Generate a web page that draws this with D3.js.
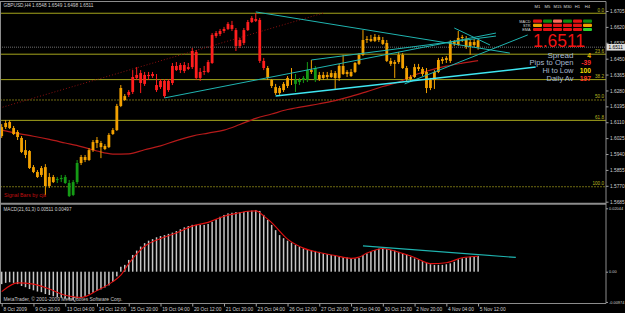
<!DOCTYPE html>
<html>
<head>
<meta charset="utf-8" />
<title>GBPUSD,H4</title>
<script src="https://cdn.jsdelivr.net/npm/d3@7"></script>
<style>
  body { margin: 0; background: #000; }
  svg { display: block; }
  text { font-family: "Liberation Sans", Arial, sans-serif; }
</style>
</head>
<body>
<svg id="chart" width="625" height="313"></svg>
<script>
// ---- price bars (H4, 8 Oct 2009 -> 5 Nov 2009 12:00) ----
const opens = [
  1.6036,1.6084,1.6111,1.6079,1.6058,1.6026,1.5961,1.5956,1.5870,1.5844,
  1.5828,1.5870,1.5769,1.5817,1.5801,1.5806,1.5817,1.5785,1.5721,1.5790,
  1.5892,1.5908,1.5908,1.5961,1.5999,1.5999,1.5983,1.5977,1.6047,1.6068,
  1.6197,1.6250,1.6256,1.6272,1.6347,1.6373,1.6315,1.6357,1.6357,1.6309,
  1.6298,1.6331,1.6282,1.6320,1.6411,1.6389,1.6416,1.6395,1.6405,1.6486,
  1.6347,1.6379,1.6379,1.6427,1.6571,1.6582,1.6598,1.6609,1.6630,1.6603,
  1.6518,1.6534,1.6603,1.6646,1.6662,1.6657,1.6438,1.6400,1.6336,1.6298,
  1.6266,1.6282,1.6304,1.6341,1.6336,1.6325,1.6336,1.6336,1.6379,1.6336,
  1.6363,1.6347,1.6363,1.6352,1.6373,1.6347,1.6411,1.6368,1.6379,1.6379,
  1.6422,1.6470,1.6550,1.6555,1.6545,1.6566,1.6550,1.6534,1.6438,1.6422,
  1.6432,1.6470,1.6400,1.6341,1.6352,1.6405,1.6395,1.6379,1.6293,1.6336,
  1.6379,1.6438,1.6443,1.6438,1.6529,1.6523,1.6561,1.6555,1.6518,1.6539,
  1.6548
];
const highs = [
  1.6100,1.6122,1.6122,1.6090,1.6068,1.6036,1.6015,1.5961,1.5881,1.5854,
  1.5876,1.5886,1.5838,1.5828,1.5817,1.5828,1.5828,1.5801,1.5801,1.5908,
  1.5935,1.5935,1.5972,1.6015,1.6031,1.6010,1.5993,1.6052,1.6079,1.6208,
  1.6309,1.6261,1.6282,1.6389,1.6405,1.6389,1.6379,1.6379,1.6379,1.6368,
  1.6341,1.6341,1.6341,1.6427,1.6432,1.6427,1.6432,1.6427,1.6507,1.6496,
  1.6400,1.6411,1.6443,1.6587,1.6598,1.6609,1.6620,1.6646,1.6652,1.6614,
  1.6561,1.6614,1.6657,1.6678,1.6694,1.6668,1.6454,1.6411,1.6341,1.6315,
  1.6304,1.6325,1.6357,1.6400,1.6368,1.6347,1.6357,1.6432,1.6443,1.6411,
  1.6379,1.6379,1.6379,1.6389,1.6384,1.6422,1.6470,1.6389,1.6395,1.6432,
  1.6480,1.6603,1.6571,1.6577,1.6582,1.6577,1.6566,1.6550,1.6454,1.6443,
  1.6486,1.6480,1.6411,1.6363,1.6422,1.6422,1.6405,1.6400,1.6347,1.6389,
  1.6454,1.6459,1.6464,1.6550,1.6550,1.6598,1.6577,1.6571,1.6550,1.6555,
  1.6549
];
const lows = [
  1.6026,1.6074,1.6074,1.6042,1.6015,1.5945,1.5918,1.5860,1.5838,1.5812,
  1.5817,1.5721,1.5758,1.5785,1.5785,1.5790,1.5780,1.5710,1.5715,1.5780,
  1.5881,1.5897,1.5903,1.5951,1.5972,1.5918,1.5961,1.5972,1.6042,1.6063,
  1.6191,1.6224,1.6245,1.6261,1.6336,1.6266,1.6304,1.6336,1.6347,1.6272,
  1.6288,1.6240,1.6272,1.6309,1.6384,1.6373,1.6373,1.6389,1.6395,1.6336,
  1.6331,1.6363,1.6373,1.6422,1.6561,1.6571,1.6587,1.6603,1.6598,1.6491,
  1.6507,1.6523,1.6598,1.6641,1.6646,1.6427,1.6389,1.6336,1.6293,1.6256,
  1.6256,1.6272,1.6293,1.6309,1.6272,1.6309,1.6320,1.6325,1.6368,1.6325,
  1.6331,1.6336,1.6341,1.6347,1.6288,1.6331,1.6363,1.6352,1.6352,1.6373,
  1.6416,1.6464,1.6534,1.6539,1.6539,1.6539,1.6523,1.6432,1.6411,1.6347,
  1.6422,1.6395,1.6331,1.6325,1.6347,1.6384,1.6357,1.6266,1.6282,1.6288,
  1.6373,1.6422,1.6427,1.6427,1.6518,1.6518,1.6539,1.6502,1.6470,1.6512,
  1.6498
];
const closes = [
  1.6084,1.6106,1.6079,1.6047,1.6031,1.5951,1.5935,1.5865,1.5844,1.5817,
  1.5865,1.5769,1.5817,1.5790,1.5806,1.5812,1.5785,1.5715,1.5790,1.5892,
  1.5924,1.5924,1.5961,1.6004,1.6015,1.5977,1.5967,1.6042,1.6068,1.6197,
  1.6293,1.6229,1.6272,1.6352,1.6363,1.6320,1.6363,1.6363,1.6368,1.6282,
  1.6331,1.6250,1.6331,1.6411,1.6389,1.6416,1.6384,1.6405,1.6491,1.6347,
  1.6379,1.6384,1.6432,1.6577,1.6587,1.6598,1.6609,1.6636,1.6609,1.6518,
  1.6550,1.6603,1.6646,1.6668,1.6652,1.6438,1.6400,1.6347,1.6304,1.6266,
  1.6293,1.6315,1.6347,1.6336,1.6315,1.6336,1.6347,1.6389,1.6389,1.6400,
  1.6341,1.6363,1.6352,1.6373,1.6347,1.6411,1.6368,1.6379,1.6357,1.6427,
  1.6470,1.6550,1.6555,1.6545,1.6566,1.6550,1.6529,1.6438,1.6422,1.6432,
  1.6470,1.6400,1.6341,1.6352,1.6405,1.6395,1.6368,1.6293,1.6336,1.6379,
  1.6443,1.6448,1.6454,1.6539,1.6539,1.6561,1.6566,1.6512,1.6539,1.6523,
  1.6511
];
// Signal Bars state per bar, as runs (o = neutral, r = up trend, g = down trend)
const stateRuns = [["o",14],["g",6],["o",12],["r",35],["o",7],["g",4],["o",1],["g",1],["o",41]];

// moving average (red line) read every 4 bars
const maBars = [0,4,8,12,16,20,24,28,32,36,40,44,48,52,56,60,64,68,72,76,80,84,88,92,96,100,104,108,112,116,120];
const maVals = [1.6068,1.6050,1.6035,1.6018,1.5999,1.5980,1.5956,1.5940,1.5941,1.5963,1.5984,1.6012,1.6036,1.6052,1.6068,1.6098,
  1.6131,1.6154,1.6178,1.6194,1.6209,1.6226,1.6248,1.6274,1.6301,1.6325,1.6363,1.6389,1.6410,1.6426,1.6440];

// fibonacci retracement
const fibLevels = ["0.0","23.6","38.2","50.0","61.8","100.0"];
const fibPrices = [1.6693,1.6474,1.6338,1.6229,1.6120,1.5765];

// trend lines [bar1, price1, bar2, price2]
const cyanLines = [
  [64, 1.6700, 128, 1.6480],
  [78, 1.6443, 124.5, 1.6571],
  [41, 1.6240, 124.5, 1.6587],
  [114, 1.6614, 123, 1.6523],
  [101.5, 1.6315, 132.5, 1.6577]
];
const supportLine = [69, 1.6250, 134.5, 1.6405];
const dottedLine = [-0.5, 1.6186, 81, 1.6694];

// MACD(21,61,3)
const macdVals = [
  -0.0040,-0.0036,-0.0034,-0.0036,-0.0040,-0.0046,-0.0050,-0.0056,-0.0060,-0.0064,
  -0.0066,-0.0072,-0.0075,-0.0079,-0.0082,-0.0084,-0.0087,-0.0090,-0.0091,-0.0087,
  -0.0082,-0.0078,-0.0073,-0.0068,-0.0062,-0.0057,-0.0051,-0.0044,-0.0033,-0.0015,
  0.0016,0.0022,0.0038,0.0054,0.0068,0.0081,0.0092,0.0100,0.0105,0.0111,
  0.0115,0.0118,0.0122,0.0126,0.0131,0.0137,0.0143,0.0147,0.0151,0.0151,
  0.0151,0.0151,0.0154,0.0161,0.0169,0.0177,0.0183,0.0188,0.0190,0.0192,
  0.0192,0.0193,0.0195,0.0197,0.0199,0.0196,0.0183,0.0167,0.0151,0.0134,
  0.0118,0.0108,0.0100,0.0094,0.0086,0.0081,0.0075,0.0072,0.0070,0.0067,
  0.0064,0.0059,0.0057,0.0054,0.0052,0.0048,0.0047,0.0046,0.0044,0.0043,
  0.0044,0.0054,0.0059,0.0064,0.0070,0.0074,0.0075,0.0073,0.0070,0.0068,
  0.0064,0.0060,0.0055,0.0048,0.0043,0.0040,0.0034,0.0029,0.0024,0.0022,
  0.0022,0.0022,0.0024,0.0027,0.0032,0.0040,0.0043,0.0046,0.0048,0.0050,
  0.0051
];
const signalBars = [0,4,8,12,16,20,24,28,30,32,36,40,44,48,52,56,60,62,64,66,68,72,76,80,84,88,90,92,96,100,104,108,112,116,120];
const signalVals = [-0.0064,-0.0036,-0.0040,-0.0056,-0.0076,-0.0083,-0.0061,-0.0032,-0.0011,0.0026,0.0082,0.0107,0.0125,0.0147,0.0159,0.0179,0.0190,
  0.0195,0.0196,0.0180,0.0158,0.0105,0.0076,0.0062,0.0052,0.0043,0.0047,0.0060,0.0075,0.0063,0.0046,0.0026,0.0029,0.0045,0.0050];
const macdLine = [91, 0.0083, 129.5, 0.0046];

// axes
const priceTicks = [1.6705,1.6620,1.6535,1.6450,1.6365,1.6280,1.6195,1.6110,1.6025,1.5940,1.5855,1.5770,1.5685];
const macdTicks = [0.02044, 0, -0.00974];
const macdTickLabels = ["0.02044","0.00","-0.00974"];
const timeTickBars = [0,8,16,24,32,40,48,56,64,72,80,88,96,104,112,120];
const timeTickLabels = ["8 Oct 2009","9 Oct 20:00","13 Oct 04:00","14 Oct 12:00","15 Oct 20:00","19 Oct 04:00","20 Oct 12:00",
  "21 Oct 20:00","23 Oct 04:00","26 Oct 12:00","27 Oct 20:00","29 Oct 04:00","30 Oct 12:00","2 Nov 20:00","4 Nov 04:00","5 Nov 12:00"];

// info panel
const lastPrice = "1.6511";
const headerText = "GBPUSD,H4  1.6548 1.6549 1.6498 1.6511";
const macdHeader = "MACD(21,61,3) 0.00511 0.00497";
const timeframes = ["M1","M5","M15","M30","H1","H4"];
const panelRows = ["MACD","STR","EMA"];
const panelStates = [["r","g","l","g","r","g"],["o","r","r","r","r","o"],["r","r","r","r","r","G"]];
const infoLabels = ["Spread","Pips to Open","Hi to Low","Daily Av"];
const infoValues = ["4","-39","100","197"];

// ---------------------------------------------------------------
const states = stateRuns.flatMap(([s, n]) => Array(n).fill(s));
const candleColor = { o: "#f2a100", r: "#ff1e1e", g: "#159a15" };
const cellColor = { r: "#e31212", l: "#ff6a5a", g: "#0e8a0e", G: "#2ed12e", o: "#eea000" };
const infoColors = ["#e8b400", "#ff2a2a", "#f4dc00", "#ff3a1e"];
const infoLabelWidths = [26, 44, 31, 27];

const svg = d3.select("#chart");
svg.append("rect").attr("width", 625).attr("height", 313).attr("fill", "#000");

const x = d3.scaleLinear().domain([0, 120]).range([1.7, 478.1]);
const yP = d3.scaleLinear().domain([1.5685, 1.6705]).range([201.7, 11]);
const yM = d3.scaleLinear().domain([0, 0.02044]).range([271.7, 208.3]);

const defs = svg.append("defs");
defs.append("clipPath").attr("id", "clipMain")
  .append("rect").attr("x", 1).attr("y", 2).attr("width", 605).attr("height", 201);
defs.append("clipPath").attr("id", "clipMacd")
  .append("rect").attr("x", 1).attr("y", 205).attr("width", 605).attr("height", 98);

const main = svg.append("g").attr("clip-path", "url(#clipMain)");

// fib lines
fibLevels.forEach((lv, k) => {
  const dim = lv === "50.0" || lv === "100.0";
  main.append("line")
    .attr("x1", 0).attr("x2", 606)
    .attr("y1", yP(fibPrices[k])).attr("y2", yP(fibPrices[k]))
    .attr("stroke", dim ? "#6f6a12" : "#a4a41c")
    .attr("stroke-width", 1)
    .attr("stroke-dasharray", dim ? "2,1" : null);
  main.append("text")
    .attr("x", 604).attr("y", yP(fibPrices[k]) - 1.6)
    .attr("text-anchor", "end").attr("font-size", 4.6)
    .attr("fill", "#b8b820").text(lv);
});

// current price line
main.append("line")
  .attr("x1", 0).attr("x2", 606)
  .attr("y1", yP(closes[closes.length - 1])).attr("y2", yP(closes[closes.length - 1]))
  .attr("stroke", "#4a4a4a").attr("stroke-width", 1.3).attr("stroke-dasharray", "1,1");

// moving average
const maLine = d3.line().x(d => x(d[0])).y(d => yP(d[1])).curve(d3.curveMonotoneX);
main.append("path")
  .attr("d", maLine(maBars.map((b, k) => [b, maVals[k]])))
  .attr("fill", "none").attr("stroke", "#b51a1a").attr("stroke-width", 1.2);

// dotted trend line
main.append("line")
  .attr("x1", x(dottedLine[0])).attr("y1", yP(dottedLine[1]))
  .attr("x2", x(dottedLine[2])).attr("y2", yP(dottedLine[3]))
  .attr("stroke", "#8c1010").attr("stroke-width", 1).attr("stroke-dasharray", "1,2");

// candles
const bars = opens.map((o, i) => ({ i, o, h: highs[i], l: lows[i], c: closes[i], s: states[i] }));
main.selectAll("line.wick").data(bars).join("line").attr("class", "wick")
  .attr("x1", d => x(d.i)).attr("x2", d => x(d.i))
  .attr("y1", d => yP(d.h)).attr("y2", d => yP(d.l))
  .attr("stroke", d => candleColor[d.s]).attr("stroke-width", 1);
main.selectAll("rect.body").data(bars).join("rect").attr("class", "body")
  .attr("x", d => x(d.i) - 1.4).attr("width", 2.8)
  .attr("y", d => yP(Math.max(d.o, d.c)))
  .attr("height", d => Math.max(1, Math.abs(yP(d.o) - yP(d.c))))
  .attr("fill", d => candleColor[d.s]);

// cyan trend lines
main.selectAll("line.trend").data(cyanLines).join("line").attr("class", "trend")
  .attr("x1", d => x(d[0])).attr("y1", d => yP(d[1]))
  .attr("x2", d => x(d[2])).attr("y2", d => yP(d[3]))
  .attr("stroke", "#1fb4b0").attr("stroke-width", 1);
main.append("line")
  .attr("x1", x(supportLine[0])).attr("y1", yP(supportLine[1]))
  .attr("x2", x(supportLine[2])).attr("y2", yP(supportLine[3]))
  .attr("stroke", "#3fe6f2").attr("stroke-width", 1.5);

// signal panel
const panel = svg.append("g");
timeframes.forEach((tf, c) => {
  panel.append("text").attr("x", 537.5 + c * 10).attr("y", 8.3)
    .attr("text-anchor", "middle").attr("font-size", 4.2).attr("fill", "#d8d8d8").text(tf);
});
panelRows.forEach((row, r) => {
  panel.append("text").attr("x", 530.5).attr("y", 22.6 + r * 4.2)
    .attr("text-anchor", "end").attr("font-size", 3.8).attr("fill", "#d8d8d8").text(row);
  panelStates[r].forEach((st, c) => {
    panel.append("rect")
      .attr("x", 533 + c * 10).attr("y", 19.5 + r * 4.2)
      .attr("width", 9).attr("height", 3.2).attr("rx", 1)
      .attr("fill", cellColor[st]);
  });
});
panel.append("text").attr("x", 585).attr("y", 47)
  .attr("text-anchor", "end").attr("font-size", 18).attr("fill", "#f01414")
  .attr("textLength", 52).attr("lengthAdjust", "spacingAndGlyphs").text(lastPrice);
infoLabels.forEach((lb, k) => {
  const by = 57.6 + k * 7.7;
  panel.append("text").attr("x", 573.5).attr("y", by)
    .attr("text-anchor", "end").attr("font-size", 6.7).attr("fill", "#a9b9d2")
    .attr("textLength", infoLabelWidths[k]).attr("lengthAdjust", "spacingAndGlyphs").text(lb);
  panel.append("text").attr("x", 591).attr("y", by)
    .attr("text-anchor", "end").attr("font-size", 6.7).attr("font-weight", "bold")
    .attr("fill", infoColors[k]).text(infoValues[k]);
});

// texts in main pane
svg.append("text").attr("x", 3.5).attr("y", 7)
  .attr("font-size", 5.2).attr("fill", "#d0d0d0")
  .attr("textLength", 90).attr("lengthAdjust", "spacingAndGlyphs").text(headerText);
svg.append("text").attr("x", 4).attr("y", 196.5)
  .attr("font-size", 5.2).attr("fill", "#c01010")
  .attr("textLength", 42).attr("lengthAdjust", "spacingAndGlyphs").text("Signal Bars by cja");

// ---- MACD pane ----
const macdG = svg.append("g").attr("clip-path", "url(#clipMacd)");
macdG.selectAll("rect.hist").data(macdVals).join("rect").attr("class", "hist")
  .attr("x", (v, i) => x(i) - 0.75).attr("width", 1.5)
  .attr("y", v => Math.min(yM(v), yM(0)))
  .attr("height", v => Math.abs(yM(v) - yM(0)))
  .attr("fill", "#c6c6c6");
const sigLine = d3.line().x(d => x(d[0])).y(d => yM(d[1])).curve(d3.curveMonotoneX);
macdG.append("path")
  .attr("d", sigLine(signalBars.map((b, k) => [b, signalVals[k]])))
  .attr("fill", "none").attr("stroke", "#e01010").attr("stroke-width", 1.1);
macdG.append("line")
  .attr("x1", x(macdLine[0])).attr("y1", yM(macdLine[1]))
  .attr("x2", x(macdLine[2])).attr("y2", yM(macdLine[3]))
  .attr("stroke", "#1fb4b0").attr("stroke-width", 1.2);
svg.append("text").attr("x", 3.5).attr("y", 210.6)
  .attr("font-size", 5.2).attr("fill", "#d0d0d0")
  .attr("textLength", 68).attr("lengthAdjust", "spacingAndGlyphs").text(macdHeader);
svg.append("text").attr("x", 3.5).attr("y", 301.4)
  .attr("font-size", 5.2).attr("fill", "#c8c8c8")
  .attr("textLength", 119).attr("lengthAdjust", "spacingAndGlyphs")
  .text("MetaTrader, \u00a9 2001-2009 MetaQuotes Software Corp.");

// ---- frame ----
const frame = svg.append("g").attr("stroke", "#8c8c8c").attr("fill", "none");
frame.append("line").attr("x1", 0).attr("x2", 606).attr("y1", 1.5).attr("y2", 1.5);
frame.append("line").attr("x1", 0.5).attr("x2", 0.5).attr("y1", 1.5).attr("y2", 303.5);
frame.append("line").attr("x1", 0).attr("x2", 606).attr("y1", 203.8).attr("y2", 203.8).attr("stroke-width", 2);
frame.append("line").attr("x1", 0).attr("x2", 606).attr("y1", 303.5).attr("y2", 303.5);
frame.append("line").attr("x1", 606).attr("x2", 606).attr("y1", 1.5).attr("y2", 303.5);

// ---- axes ----
function styleAxis(g, size) {
  g.select(".domain").remove();
  g.selectAll(".tick line").attr("stroke", "#a0a0a0");
  g.selectAll(".tick text").attr("fill", "#d0d0d0").attr("font-size", size)
    .attr("font-family", "'Liberation Sans', Arial, sans-serif");
}
svg.append("g").attr("transform", "translate(606,0)")
  .call(d3.axisRight(yP).tickValues(priceTicks).tickSize(2.5).tickPadding(1.5).tickFormat(d3.format(".4f")))
  .call(styleAxis, 4.8);
svg.append("g").attr("transform", "translate(606,0)")
  .call(d3.axisRight(yM).tickValues(macdTicks).tickSize(2).tickPadding(1)
    .tickFormat((d, k) => macdTickLabels[k]))
  .call(styleAxis, 3.9);
svg.append("g").attr("transform", "translate(0,303.5)")
  .call(d3.axisBottom(x).tickValues(timeTickBars).tickSize(3).tickPadding(0)
    .tickFormat((d, k) => timeTickLabels[k]))
  .call(styleAxis, 4.8)
  .call(g => g.selectAll(".tick text").attr("text-anchor", "start").attr("x", 1.2).attr("dy", "0.9em"));

// last price marker on the axis
const lp = yP(closes[closes.length - 1]);
svg.append("rect").attr("x", 606.5).attr("y", lp - 3.3).attr("width", 18.5).attr("height", 6.6).attr("fill", "#dcdcdc");
svg.append("text").attr("x", 608.5).attr("y", lp + 1.7).attr("font-size", 4.8).attr("fill", "#000").text(lastPrice);
</script>
</body>
</html>
